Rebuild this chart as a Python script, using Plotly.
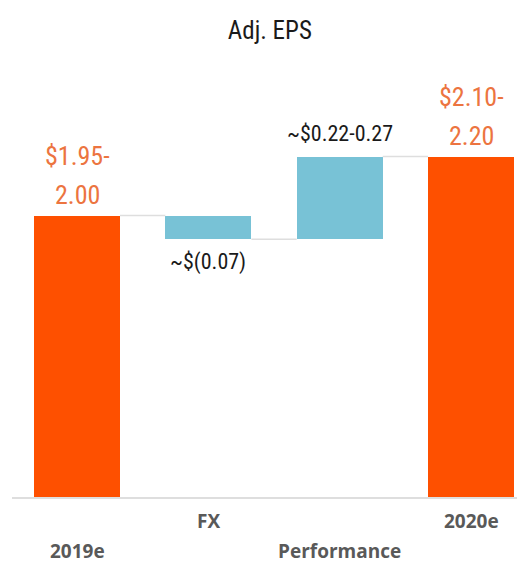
import plotly.graph_objects as go

# Adj. EPS bridge, 2019e -> 2020e
categories = ["2019e", "FX", "Performance", "2020e"]
steps = [1.975, -0.07, 0.245, None]          # start value, changes; last bar is the total
value_labels = [["$1.95-", "2.00"], ["~$(0.07)"], ["~$0.22-0.27"], ["$2.10-", "2.20"]]
label_rows = [1, 0, 1, 0]                     # staggered category labels (0 = upper row)

ORANGE = "#FE5000"
ORANGE_TXT = "#EC7440"
BLUE = "#78C2D6"
GRID = "#DEDEDE"
COND = "Roboto Condensed, Liberation Sans Narrow, Arial Narrow, Roboto, sans-serif"

# cumulative levels for the waterfall
bases, tops, colors = [], [], []
level = 0.0
for i, s in enumerate(steps):
    if i == 0:
        bases.append(0.0); tops.append(s); level = s; colors.append(ORANGE)
    elif s is None:
        bases.append(0.0); tops.append(level); colors.append(ORANGE)
    else:
        bases.append(level); tops.append(level + s); level += s; colors.append(BLUE)

x = list(range(len(categories)))
heights = [t - b for b, t in zip(bases, tops)]
bar_w = 0.655

fig = go.Figure()
fig.add_trace(go.Bar(x=x, y=heights, base=bases, width=bar_w,
                     marker=dict(color=colors, line=dict(width=0)),
                     hoverinfo="skip", showlegend=False))

# connector lines between consecutive bars
for i in range(len(x) - 1):
    yv = tops[i]
    fig.add_trace(go.Scatter(x=[x[i] + bar_w / 2, x[i + 1] - bar_w / 2], y=[yv, yv],
                             mode="lines", line=dict(color=GRID, width=1.5),
                             hoverinfo="skip", showlegend=False))

annotations = []
for i, lines in enumerate(value_labels):
    is_total = colors[i] == ORANGE
    if is_total:
        for j, txt in enumerate(reversed(lines)):
            annotations.append(dict(x=x[i], y=tops[i], xref="x", yref="y", text=txt,
                                    showarrow=False, yanchor="middle", yshift=21 + 39 * j,
                                    font=dict(family=COND, size=26, color=ORANGE_TXT)))
    else:
        up = heights[i] >= 0
        annotations.append(dict(x=x[i], y=max(bases[i], tops[i]) if up else min(bases[i], tops[i]),
                                xref="x", yref="y", text=lines[0], showarrow=False,
                                yanchor="middle", yshift=23 if up else -23,
                                font=dict(family=COND, size=22, color="#1A1A1A")))

for i, name in enumerate(categories):
    annotations.append(dict(x=x[i], y=0, xref="x", yref="paper", text="<b>%s</b>" % name,
                            showarrow=False, yanchor="middle", yshift=-24 - 30 * label_rows[i],
                            font=dict(family="Open Sans, sans-serif", size=19, color="#595959")))

fig.update_layout(
    width=524, height=565,
    margin=dict(l=12, r=7, t=100, b=68),
    paper_bgcolor="white", plot_bgcolor="white",
    title=dict(text="Adj. EPS", x=0.515, xanchor="center", y=0.947, yanchor="middle",
               font=dict(family=COND, size=25, color="#1A1A1A")),
    xaxis=dict(range=[-0.495, 3.35], showticklabels=False, showgrid=False, zeroline=False,
               showline=True, linecolor=GRID, linewidth=1.5, ticks=""),
    yaxis=dict(range=[1.14, 2.318], visible=False),
    annotations=annotations,
    bargap=0,
)

fig.write_html("out.html")
